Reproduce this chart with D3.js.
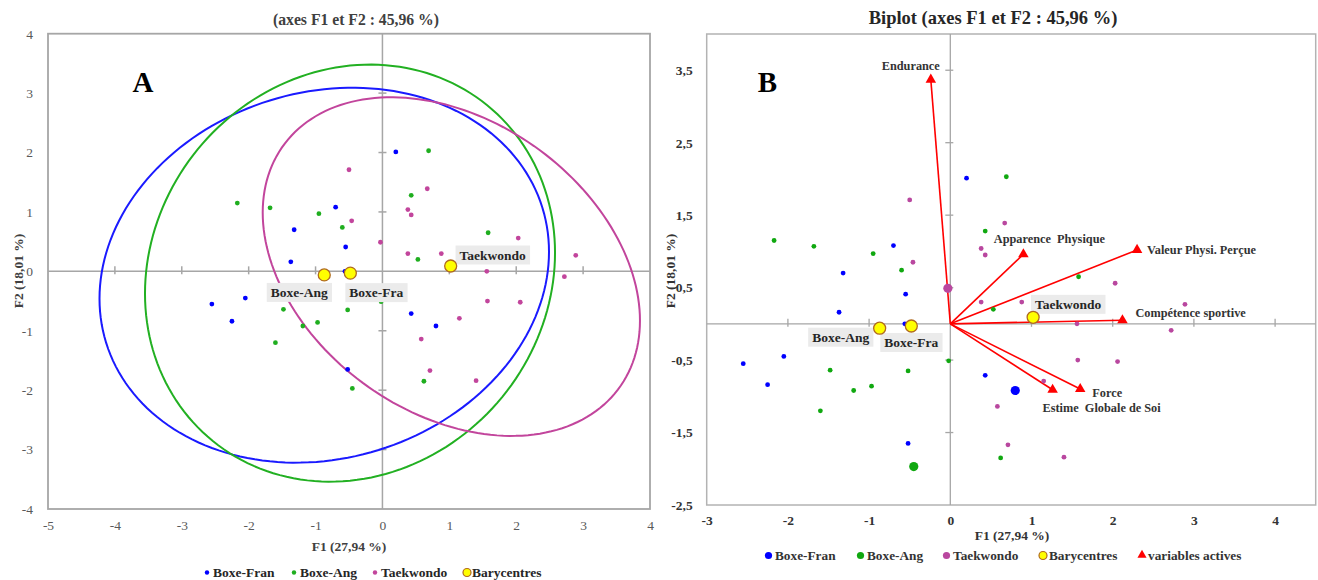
<!DOCTYPE html>
<html><head><meta charset="utf-8">
<script src="https://cdn.jsdelivr.net/npm/d3@7"></script>
<style>
body{margin:0;background:#fff;}
svg{display:block;}
text{font-family:"Liberation Serif","Times New Roman",serif;}
</style></head>
<body>
<svg id="chart" width="1318" height="580"></svg>
<script>
// ---------------- DATA ----------------
const seriesNames = ["Boxe-Fran", "Boxe-Ang", "Taekwondo"];
const boxeFran = [[0.20,2.01],[-0.70,1.08],[-1.32,0.70],[-0.55,0.41],[-1.37,0.16],[-0.56,0.0],
  [-2.55,-0.55],[-2.05,-0.45],[-2.25,-0.84],[-0.52,-1.65],[0.43,-0.71],[0.80,-0.92]];
const boxeAng = [[-2.17,1.15],[-1.68,1.07],[-0.95,0.97],[-0.60,0.74],[0.69,2.03],[0.43,1.28],
  [1.58,0.65],[0.53,0.20],[-1.48,-0.64],[-0.52,-0.65],[-1.19,-0.92],[-0.97,-0.86],
  [-1.60,-1.20],[-0.45,-1.97],[-0.02,-0.51],[0.62,-1.85]];
const taekwondo = [[-0.50,1.71],[-0.46,0.85],[-0.03,0.49],[0.67,1.39],[0.38,1.04],[0.43,0.95],
  [2.03,0.56],[0.38,0.30],[0.88,0.30],[2.89,0.27],[1.56,0.0],[2.72,-0.09],[1.57,-0.50],
  [2.06,-0.52],[1.15,-0.79],[0.58,-1.14],[0.71,-1.67],[1.40,-1.84]];
const baryNames = ["Boxe-Ang", "Boxe-Fra", "Taekwondo"];
const baryX = [-0.87, -0.48, 1.02];
const baryY = [-0.06, -0.03, 0.09];
// confidence ellipses: centre, half-width (F1), half-height (F2), F1 offset of top point
const ellipseCx = [-0.87, -0.485, 1.03];
const ellipseCy = [-0.065, -0.03, 0.08];
const ellipseW = [3.36, 3.065, 2.82];
const ellipseH = [3.155, 3.51, 2.85];
const ellipseTopShift = [0.42, 0.30, -0.90];
const varNames = ["Endurance","Apparence  Physique","Valeur Physi. Perçue","Compétence sportive","Force","Estime  Globale de Soi"];
const varX = [-0.24, 0.90, 2.30, 2.12, 1.60, 1.26];
const varY = [3.37, 0.96, 1.02, 0.05, -0.90, -0.91];
const xTicksA = [-5,-4,-3,-2,-1,0,1,2,3,4];
const yTicksA = [-4,-3,-2,-1,0,1,2,3,4];
const xTicksB = [-3,-2,-1,0,1,2,3,4];
const yTicksB = [-2.5,-1.5,-0.5,0.5,1.5,2.5,3.5];

// ---------------- STYLE ----------------
const colA = ["#0000ff", "#1fae1f", "#c2459c"];
const colB = ["#0000ff", "#10a810", "#b9479f"];
const ellCol = ["#1a1aff", "#22b022", "#c2459c"];
const series = [boxeFran, boxeAng, taekwondo];
const ellColorIdx = [0, 1, 2];

const svg = d3.select("#chart");
const fmtComma = d => String(d).replace(".", ",");
const fmtInt = d => String(d);

// ================= PANEL A =================
const xA = d3.scaleLinear().domain([-5,4]).range([48,650]);
const yA = d3.scaleLinear().domain([-4,4]).range([509,33.7]);
const gA = svg.append("g");

gA.append("rect").attr("x",xA(-5)).attr("y",yA(4)).attr("width",xA(4)-xA(-5)).attr("height",yA(-4)-yA(4))
  .attr("fill","none").attr("stroke","#a6a6a6").attr("stroke-width",1.8);

const zA = gA.append("g").attr("stroke","#a6a6a6").attr("stroke-width",1.5);
zA.append("line").attr("x1",xA(-5)).attr("x2",xA(4)).attr("y1",yA(0)).attr("y2",yA(0));
zA.append("line").attr("x1",xA(0)).attr("x2",xA(0)).attr("y1",yA(4)).attr("y2",yA(-4));
zA.selectAll(".tx").data(xTicksA.filter(d=>d!==0 && d!==-5 && d!==4)).join("line")
  .attr("x1",d=>xA(d)).attr("x2",d=>xA(d)).attr("y1",yA(0)-5).attr("y2",yA(0)+3);
zA.selectAll(".ty").data(yTicksA.filter(d=>d!==0 && Math.abs(d)!==4)).join("line")
  .attr("y1",d=>yA(d)).attr("y2",d=>yA(d)).attr("x1",xA(0)-4).attr("x2",xA(0)+4);

const axXA = gA.append("g").attr("transform",`translate(0,${yA(-4)+8})`)
  .call(d3.axisBottom(xA).tickValues(xTicksA).tickSize(0).tickFormat(fmtInt));
const axYA = gA.append("g").attr("transform",`translate(${xA(-5)-8},0)`)
  .call(d3.axisLeft(yA).tickValues(yTicksA).tickSize(0).tickFormat(fmtInt));
[axXA, axYA].forEach(a=>{a.select(".domain").remove(); a.attr("font-family",null);
  a.selectAll("text").attr("font-size",13.5).attr("fill","#595959");});
axYA.selectAll("text").attr("dx",-4);

function ellipsePath(i, xs, ys){
  const W = ellipseW[i], H = ellipseH[i];
  const d = ellipseTopShift[i]*H/W;
  const k = Math.sqrt(H*H - d*d);
  const pts = d3.range(0, 361, 2).map(a=>{
    const t = a*Math.PI/180;
    return [xs(ellipseCx[i] + W*Math.cos(t)), ys(ellipseCy[i] + d*Math.cos(t) + k*Math.sin(t))];
  });
  return d3.line()(pts) + "Z";
}
gA.selectAll(".ell").data(d3.range(3)).join("path")
  .attr("d",i=>ellipsePath(i,xA,yA)).attr("fill","none")
  .attr("stroke",i=>ellCol[ellColorIdx[i]]).attr("stroke-width",2);

series.forEach((s,si)=>{
  gA.append("g").selectAll("circle").data(s).join("circle")
    .attr("cx",d=>xA(d[0])).attr("cy",d=>yA(d[1])).attr("r",2.4).attr("fill",colA[si]);
});

const labOffA = {"Boxe-Ang":[-25,17.5],"Boxe-Fra":[26,19.5],"Taekwondo":[42,-11]};
function boxedLabel(g, x, y, txt, size){
  const t = g.append("text").attr("x",x).attr("y",y).attr("text-anchor","middle")
    .attr("dominant-baseline","central").attr("font-weight","bold").attr("font-size",size)
    .attr("fill","#262626").text(txt);
  const bb = t.node().getBBox();
  g.insert("rect", () => t.node()).attr("x",bb.x-4).attr("y",y-9.5).attr("width",bb.width+8).attr("height",19)
    .attr("fill","#ebebeb");
}
baryNames.forEach((n,i)=>{
  const o = labOffA[n];
  boxedLabel(gA, xA(baryX[i])+o[0], yA(baryY[i])+o[1], n, 13.5);
});
gA.append("g").selectAll("circle").data(baryNames).join("circle")
  .attr("cx",(d,i)=>xA(baryX[i])).attr("cy",(d,i)=>yA(baryY[i])).attr("r",6)
  .attr("fill","#ffff00").attr("stroke","#b06a1f").attr("stroke-width",1.3);

gA.append("text").attr("x",356).attr("y",25).attr("text-anchor","middle").attr("font-weight","bold")
  .attr("font-size",15.7).attr("fill","#404040").text("(axes F1 et F2 : 45,96 %)");
gA.append("text").attr("x",143).attr("y",92).attr("text-anchor","middle").attr("font-weight","bold")
  .attr("font-size",29).attr("fill","#000").text("A");
gA.append("text").attr("x",349).attr("y",551).attr("text-anchor","middle").attr("font-weight","bold")
  .attr("font-size",13.5).attr("fill","#404040").text("F1 (27,94 %)");
gA.append("text").attr("transform",`translate(23,271) rotate(-90)`).attr("text-anchor","middle").attr("font-weight","bold")
  .attr("font-size",13.5).attr("fill","#404040").text("F2 (18,01 %)");

const legA = [{n:"Boxe-Fran",x:205,c:colA[0]},{n:"Boxe-Ang",x:292,c:colA[1]},{n:"Taekwondo",x:373,c:colA[2]},{n:"Barycentres",x:463,c:null}];
legA.forEach(l=>{
  if(l.c) gA.append("circle").attr("cx",l.x+2).attr("cy",572.5).attr("r",2.2).attr("fill",l.c);
  else gA.append("circle").attr("cx",l.x+4).attr("cy",572.5).attr("r",4).attr("fill","#ffff00").attr("stroke","#b06a1f").attr("stroke-width",1.2);
  gA.append("text").attr("x",l.x+(l.c?8:9)).attr("y",577).attr("font-weight","bold").attr("font-size",13.5)
    .attr("fill","#262626").text(l.n);
});

// ================= PANEL B =================
const xB = d3.scaleLinear().domain([-3,4.5]).range([706.7,1315.7]);
const yB = d3.scaleLinear().domain([-2.5,4]).range([505,34]);
const gB = svg.append("g");

gB.append("rect").attr("x",xB(-3)).attr("y",yB(4)).attr("width",xB(4.5)-xB(-3)).attr("height",yB(-2.5)-yB(4))
  .attr("fill","none").attr("stroke","#b3b3b3").attr("stroke-width",1.5);
const zB = gB.append("g").attr("stroke","#a6a6a6").attr("stroke-width",1.3);
zB.append("line").attr("x1",xB(-3)).attr("x2",xB(4.5)).attr("y1",yB(0)).attr("y2",yB(0));
zB.append("line").attr("x1",xB(0)).attr("x2",xB(0)).attr("y1",yB(4)).attr("y2",yB(-2.5));
zB.selectAll(".tx").data(xTicksB.filter(d=>d!==0 && d!==-3)).join("line")
  .attr("x1",d=>xB(d)).attr("x2",d=>xB(d)).attr("y1",yB(0)-5).attr("y2",yB(0)+3);
zB.selectAll(".ty").data(yTicksB.filter(d=>d!==-2.5)).join("line")
  .attr("y1",d=>yB(d)).attr("y2",d=>yB(d)).attr("x1",xB(0)-5).attr("x2",xB(0)+3);

const axXB = gB.append("g").attr("transform",`translate(0,${yB(-2.5)+7})`)
  .call(d3.axisBottom(xB).tickValues(xTicksB).tickSize(0).tickFormat(fmtComma));
const axYB = gB.append("g").attr("transform",`translate(${xB(-3)-8},0)`)
  .call(d3.axisLeft(yB).tickValues(yTicksB).tickSize(0).tickFormat(fmtComma));
[axXB, axYB].forEach(a=>{a.select(".domain").remove(); a.attr("font-family",null);
  a.selectAll("text").attr("font-weight","bold").attr("font-size",13.5).attr("fill","#333");});
axYB.selectAll("text").attr("dx",-3);

gB.append("g").selectAll("line").data(varNames).join("line")
  .attr("x1",xB(0)).attr("y1",yB(0)).attr("x2",(d,i)=>xB(varX[i])).attr("y2",(d,i)=>yB(varY[i]))
  .attr("stroke","#ff0000").attr("stroke-width",1.6);

const bigB = {"0-11":1, "1-13":1, "2-2":1};
series.forEach((s,si)=>{
  gB.append("g").selectAll("circle").data(s).join("circle")
    .attr("cx",d=>xB(d[0])).attr("cy",d=>yB(d[1])).attr("r",(d,i)=>bigB[si+"-"+i]?4.6:2.4).attr("fill",colB[si]);
});
gB.append("g").selectAll("path").data(varNames).join("path")
  .attr("d",d3.symbol(d3.symbolTriangle,48))
  .attr("transform",(d,i)=>`translate(${xB(varX[i])},${yB(varY[i])})`).attr("fill","#ff0000");

const varLab = [
  {dx:9,dy:-10,a:"end"},{dx:26,dy:-11,a:"middle"},{dx:10,dy:4,a:"start"},
  {dx:13,dy:-3.5,a:"start"},{dx:27,dy:8,a:"middle"},{dx:49,dy:22,a:"middle"}];
gB.append("g").selectAll("text").data(varNames).join("text")
  .attr("x",(d,i)=>xB(varX[i])+varLab[i].dx).attr("y",(d,i)=>yB(varY[i])+varLab[i].dy)
  .attr("text-anchor",(d,i)=>varLab[i].a).attr("font-weight","bold").attr("font-size",12.3)
  .attr("fill","#333").style("white-space","pre").text(d=>d);

const labOffB = {"Boxe-Ang":[-39,9],"Boxe-Fra":[0,16.5],"Taekwondo":[35,-13]};
baryNames.forEach((n,i)=>{
  const o = labOffB[n];
  boxedLabel(gB, xB(baryX[i])+o[0], yB(baryY[i])+o[1], n, 13.5);
});
gB.append("g").selectAll("circle").data(baryNames).join("circle")
  .attr("cx",(d,i)=>xB(baryX[i])).attr("cy",(d,i)=>yB(baryY[i])).attr("r",6)
  .attr("fill","#ffff00").attr("stroke","#b06a1f").attr("stroke-width",1.3);

gB.append("text").attr("x",993).attr("y",24).attr("text-anchor","middle").attr("font-weight","bold")
  .attr("font-size",18.5).attr("fill","#262626").text("Biplot (axes F1 et F2 : 45,96 %)");
gB.append("text").attr("x",767.5).attr("y",92).attr("text-anchor","middle").attr("font-weight","bold")
  .attr("font-size",29).attr("fill","#000").text("B");
gB.append("text").attr("x",1012).attr("y",540).attr("text-anchor","middle").attr("font-weight","bold")
  .attr("font-size",13.5).attr("fill","#333").text("F1 (27,94 %)");
gB.append("text").attr("transform",`translate(675,271) rotate(-90)`).attr("text-anchor","middle").attr("font-weight","bold")
  .attr("font-size",13.5).attr("fill","#333").text("F2 (18,01 %)");

const legB = [{n:"Boxe-Fran",x:765,c:colB[0],t:"c"},{n:"Boxe-Ang",x:857,c:colB[1],t:"c"},{n:"Taekwondo",x:943,c:colB[2],t:"c"},
  {n:"Barycentres",x:1039,c:null,t:"b"},{n:"variables actives",x:1138,c:"#ff0000",t:"t"}];
legB.forEach(l=>{
  if(l.t==="c") gB.append("circle").attr("cx",l.x+3.5).attr("cy",555.5).attr("r",3.6).attr("fill",l.c);
  else if(l.t==="b") gB.append("circle").attr("cx",l.x+4).attr("cy",555.5).attr("r",4).attr("fill","#ffff00").attr("stroke","#b06a1f").attr("stroke-width",1.2);
  else gB.append("path").attr("d",d3.symbol(d3.symbolTriangle,36)).attr("transform",`translate(${l.x+4},555)`).attr("fill","#ff0000");
  gB.append("text").attr("x",l.x+10).attr("y",560).attr("font-weight","bold").attr("font-size",13.3)
    .attr("fill","#333").text(l.n);
});
</script>
</body></html>
